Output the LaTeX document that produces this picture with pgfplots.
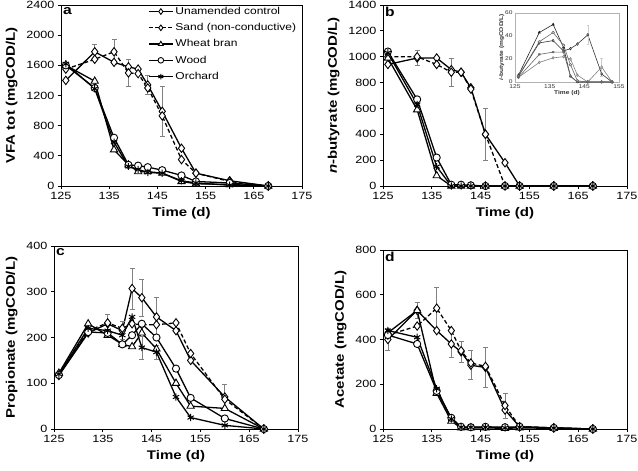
\documentclass[border=0pt]{standalone}
\usepackage{fontspec}
\setmainfont{Liberation Sans}[FakeStretch=1.2]
\usepackage{pgfplots}
\pgfplotsset{compat=1.18}

\tikzset{letter/.style={font=\bfseries\fontsize{13}{15}\selectfont, anchor=north west, inner sep=2pt}}
\pgfplotsset{
  panel/.style={
    scale only axis, anchor=south west,
    xmin=125, xmax=175, xtick={125,135,...,175},
    tick align=outside, xtick pos=bottom, ytick pos=left,
    axis line style={line width=0.9pt},
    major tick length=3pt, tick style={black, line width=0.8pt},
    ticklabel style={font=\fontsize{10.5}{12}\selectfont},
    label style={font=\bfseries\fontsize{12.5}{14}\selectfont},
    xlabel={Time (d)},
    xlabel style={yshift=-1pt},
    ylabel style={yshift=2pt},
    /pgf/number format/assume math mode=true,
    /pgf/number format/set thousands separator={},
    scaled y ticks=false,
  },
  ctrl/.style={black, line width=1.3pt, mark=diamond*, mark size=4.2pt,
    mark options={fill=white, solid, line width=0.9pt}},
  sand/.style={ctrl, dash pattern=on 4pt off 2.5pt},
  wheat/.style={black, line width=1.3pt, mark=triangle*, mark size=4.2pt,
    mark options={fill=white, solid, line width=0.9pt}},
  wood/.style={black, line width=1.3pt, mark=*, mark size=3.6pt,
    mark options={fill=white, solid, line width=0.9pt}},
  orch/.style={black, line width=1.3pt, mark=asterisk, mark size=3.6pt,
    mark options={solid, line width=1pt}},
  errb/.style={error bars/.cd, y dir=both, y explicit,
    error bar style={gray, line width=0.6pt, solid},
    error mark options={rotate=90, gray, mark size=2.5pt, line width=0.6pt}},
}

\begin{document}
\begin{tikzpicture}
\path[use as bounding box] (0,0) rectangle (638pt,-471pt);

% ---- a: total VFA
\begin{axis}[panel, at={(61pt,-186pt)}, width=241pt, height=181pt,
  ymin=0, ymax=2400, ytick={0,400,...,2400},
  ylabel={VFA tot (mgCOD/L)},
  legend style={at={(rel axis cs:0.985,1)}, anchor=north east, draw=none, fill=none,
    font=\fontsize{10}{12}\selectfont, inner sep=0pt, row sep=3.5pt},
  legend cell align=left,
  legend image code/.code={\draw[mark repeat=2,mark phase=2,#1]
    plot coordinates {(0cm,0cm) (0.42cm,0cm) (0.84cm,0cm)};},
  legend image post style={mark size=2.8pt},
]
\addplot[ctrl, errb] coordinates {
  (126,1400) (132,1780) +- (0,100) (136,1640) (139,1580) (141,1550)
  (143,1340) +- (0,130) (146,990) +- (0,330) (150,500) (153,170) (160,70) (168,0)};
\addplot[sand, errb] coordinates {
  (126,1550) (132,1680) (136,1780) +- (0,170) (139,1500) +- (0,180) (141,1490)
  (143,1300) (146,930) (150,350) (153,170) (160,60) (168,0)};
\addplot[wheat] coordinates {
  (126,1600) (132,1390) (136,480) (139,280) (141,190) (143,190) (146,170)
  (150,60) (153,30) (160,20) (168,0)};
\addplot[wood] coordinates {
  (126,1600) (132,1300) (136,640) (139,280) (141,270) (143,250) (146,210)
  (150,140) (153,60) (160,40) (168,0)};
\addplot[orch] coordinates {
  (126,1620) (132,1290) (136,580) (139,260) (141,220) (143,180) (146,170)
  (150,70) (153,40) (160,10) (168,0)};
\legend{Unamended control, Sand (non-conductive), Wheat bran, Wood, Orchard}
\node[letter] at (rel axis cs:0,1) {a};
\end{axis}

% ---- b: n-butyrate
\begin{axis}[panel, at={(383pt,-186pt)}, width=244pt, height=181pt,
  ymin=0, ymax=1400, ytick={0,200,...,1400},
  ylabel={\textit{n}-butyrate (mgCOD/L)},
]
\addplot[ctrl, errb] coordinates {
  (126,940) (132,990) +- (0,60) (136,990) (139,900) (141,880) (143,760)
  (146,400) +- (0,200) (150,180) (153,0) (160,0) (168,0)};
\addplot[sand, errb] coordinates {
  (126,1000) (132,1000) (136,940) (139,880) +- (0,110) (141,880) (143,750)
  (146,400) (150,0) (153,0) (160,0) (168,0)};
\addplot[wheat] coordinates {
  (126,990) (132,590) (136,80) (139,0) (141,0) (143,0) (146,0)
  (150,0) (153,0) (160,0) (168,0)};
\addplot[wood] coordinates {
  (126,1040) (132,670) (136,220) (139,10) (141,10) (143,5) (146,0)
  (150,0) (153,0) (160,0) (168,0)};
\addplot[orch] coordinates {
  (126,1030) (132,630) (136,150) (139,0) (141,0) (143,0) (146,0)
  (150,0) (153,0) (160,0) (168,0)};
\node[letter] at (rel axis cs:0,1) {b};
\end{axis}

% ---- b inset: i-butyrate
\begin{axis}[scale only axis, anchor=south west, at={(515pt,-82pt)},
  width=104pt, height=69pt,
  xmin=125, xmax=155, xtick={125,135,145,155},
  ymin=0, ymax=60, ytick={0,20,40,60},
  axis line style={gray!60, line width=0.5pt},
  tick style={draw=none},
  xtick pos=bottom, ytick pos=left,
  ticklabel style={font=\fontsize{5.5}{6}\selectfont, text=black!80},
  xticklabel style={yshift=1pt}, yticklabel style={xshift=1pt},
  label style={font=\bfseries\fontsize{5.5}{6}\selectfont, text=black!80},
  xlabel={Time (d)}, xlabel style={yshift=5pt},
  ylabel={\textit{i}-butyrate (mgCOD/L)}, ylabel style={yshift=-6pt},
  /pgf/number format/assume math mode=true,
  every axis plot/.append style={line width=0.6pt, mark size=1.3pt,
    mark options={solid, fill=white}},
]
\addplot[black!80, mark=diamond*, error bars/.cd, y dir=both, y explicit,
  error bar style={gray!40}] coordinates {
  (126,5) (132,34) (136,36) (139,27) (141,29) (143,33) (146,41) +- (0,8) (150,7) (153,0)};
\addplot[black!50, mark=diamond*, error bars/.cd, y dir=both, y explicit,
  error bar style={gray!40}] coordinates {
  (126,4) (132,17) (136,21) (139,22) (141,20) (143,6) (146,0) (150,13) +- (0,8) (153,0)};
\addplot[black!85, mark=triangle*, mark options={fill=black!85}] coordinates {
  (126,6) (132,43) (136,50) (139,30) (141,5) (143,0) (146,0) (150,0) (153,0)};
\addplot[black!60, mark=*] coordinates {
  (126,5) (132,35) (136,43) (139,32) (141,15) (143,1) (146,0) (150,0) (153,0)};
\addplot[black!60, mark=asterisk] coordinates {
  (126,4) (132,24) (136,26) (139,26) (141,5) (143,0) (146,0) (150,0) (153,0)};
\end{axis}

% ---- c: propionate
\begin{axis}[panel, at={(54pt,-429pt)}, width=244pt, height=183pt,
  ymin=0, ymax=400, ytick={0,100,...,400},
  ylabel={Propionate (mgCOD/L)},
]
\addplot[ctrl, errb] coordinates {
  (126,117) (132,210) (136,230) +- (0,20) (139,215) +- (0,20) (141,307) +- (0,45)
  (143,287) +- (0,40) (146,245) +- (0,43) (150,215) (153,150) (160,70) +- (0,27) (168,0)};
\addplot[sand] coordinates {
  (126,120) (132,215) (136,232) (139,220) (141,230) (143,228) (146,228)
  (150,232) (153,165) (160,65) (168,0)};
\addplot[wheat] coordinates {
  (126,122) (132,230) (136,205) (139,185) (141,180) (143,210) (146,175)
  (150,100) (153,50) (160,45) (168,0)};
\addplot[wood] coordinates {
  (126,118) (132,212) (136,210) (139,185) (141,205) (143,230) (146,200)
  (150,132) (153,68) (160,23) (168,0)};
\addplot[orch, errb] coordinates {
  (126,120) (132,220) (136,215) (139,205) (141,245) (143,178) +- (0,25)
  (146,168) +- (0,15) (150,70) (153,25) (160,8) (168,0)};
\node[letter] at (rel axis cs:0,1) {c};
\end{axis}

% ---- d: acetate
\begin{axis}[panel, at={(383pt,-429pt)}, width=244pt, height=179pt,
  ymin=0, ymax=800, ytick={0,200,...,800},
  ylabel={Acetate (mgCOD/L)},
]
\addplot[ctrl, errb] coordinates {
  (126,400) +- (0,50) (132,530) +- (0,35) (136,440) (139,380) +- (0,60)
  (141,345) +- (0,45) (143,285) +- (0,65) (146,275) +- (0,90) (150,85)
  (153,10) (160,5) (168,0)};
\addplot[sand, errb] coordinates {
  (126,420) (132,460) (136,540) +- (0,95) (139,440) (141,350) (143,295)
  (146,280) (150,105) +- (0,55) (153,10) (160,5) (168,0)};
\addplot[wheat] coordinates {
  (126,430) (132,530) (136,160) (139,35) (141,5) (143,5) (146,5)
  (150,3) (153,5) (160,3) (168,0)};
\addplot[wood] coordinates {
  (126,420) (132,380) (136,170) (139,50) (141,10) (143,8) (146,10)
  (150,8) (153,10) (160,5) (168,0)};
\addplot[orch] coordinates {
  (126,440) (132,410) (136,180) (139,45) (141,8) (143,8) (146,8)
  (150,5) (153,8) (160,4) (168,0)};
\node[letter] at (rel axis cs:0,1) {d};
\end{axis}
\end{tikzpicture}
\end{document}
